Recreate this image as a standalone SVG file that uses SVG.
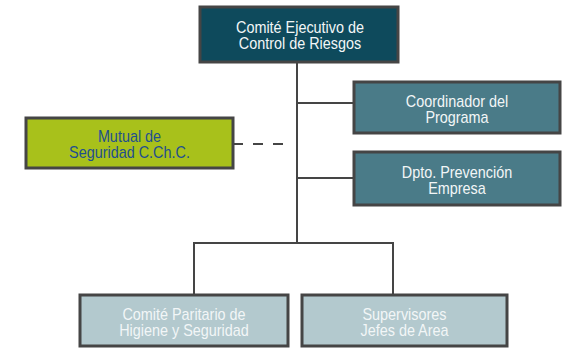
<svg xmlns="http://www.w3.org/2000/svg" width="563" height="348" viewBox="0 0 563 348">
<style>
.box{stroke:#454545;stroke-width:3}
.t{font-family:"Liberation Sans",Arial,sans-serif;font-size:16px;text-anchor:middle}
.w{fill:#f2f6f7}
.line{stroke:#454545;stroke-width:2;fill:none}
</style>
<rect width="563" height="348" fill="#ffffff"/>
<g id="connectors">
<path class="line" d="M297 62V243M297 103H354M297 178H354M194 295V243H393V295"/>
<path class="line" d="M233 144H287" stroke-dasharray="10 10"/>
</g>
<g id="comite-ejecutivo">
<rect class="box" x="200" y="7" width="198" height="55" fill="#0e4a5c"/>
<g transform="translate(300,34) scale(0.9,1)">
<text class="t w" x="0" y="-1.5">Comité Ejecutivo de</text>
<text class="t w" x="0" y="15.5">Control de Riesgos</text>
</g>
</g>
<g id="mutual">
<rect class="box" x="26" y="118" width="207" height="50" fill="#a8c11b"/>
<g transform="translate(129.5,143) scale(0.9,1)">
<text class="t" fill="#1f4f8f" x="0" y="-1.5">Mutual de</text>
<text class="t" fill="#1f4f8f" x="0" y="15.5">Seguridad C.Ch.C.</text>
</g>
</g>
<g id="coordinador">
<rect class="box" x="354" y="82" width="206" height="51" fill="#4a7b88"/>
<g transform="translate(457,108) scale(0.9,1)">
<text class="t w" x="0" y="-1.5">Coordinador del</text>
<text class="t w" x="0" y="15.5">Programa</text>
</g>
</g>
<g id="dpto">
<rect class="box" x="354" y="152" width="206" height="53" fill="#4a7b88"/>
<g transform="translate(457,179) scale(0.9,1)">
<text class="t w" x="0" y="-1.5">Dpto. Prevención</text>
<text class="t w" x="0" y="15.5">Empresa</text>
</g>
</g>
<g id="comite-paritario">
<rect class="box" x="80" y="295" width="208" height="51" fill="#b3c9ce"/>
<g transform="translate(184,321) scale(0.9,1)">
<text class="t w" x="0" y="-1.5">Comité Paritario de</text>
<text class="t w" x="0" y="15.5">Higiene y Seguridad</text>
</g>
</g>
<g id="supervisores">
<rect class="box" x="302" y="295" width="205" height="51" fill="#b3c9ce"/>
<g transform="translate(404.5,321) scale(0.9,1)">
<text class="t w" x="0" y="-1.5">Supervisores</text>
<text class="t w" x="0" y="15.5">Jefes de Area</text>
</g>
</g>
</svg>
